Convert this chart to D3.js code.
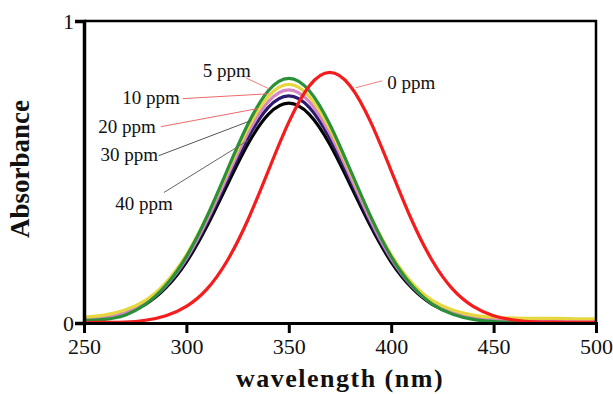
<!DOCTYPE html>
<html>
<head>
<meta charset="utf-8">
<script src="https://cdn.jsdelivr.net/npm/d3@7"></script>
<style>
  body { margin: 0; background: #fff; }
  svg text { font-family: "Times New Roman", "Liberation Serif", Times, serif; }
  .tick-label { font-size: 22px; fill: #111; }
  .ppm-label { font-size: 19px; fill: #111; }
  .axis-title { font-weight: bold; fill: #111; }
</style>
</head>
<body>
<div class="svg-container"></div>
<script>
// wavelength grid (nm)
const wavelengths = [250, 260, 270, 280, 290, 300, 310, 320, 330, 340, 350, 360, 370,
                     380, 390, 400, 410, 420, 430, 440, 450, 460, 470, 480, 490, 500];

// absorbance, one list per concentration
const abs0ppm  = [0.001, 0.002, 0.003, 0.009, 0.024, 0.055, 0.112, 0.207, 0.341, 0.504, 0.665, 0.785, 0.830,
                  0.785, 0.665, 0.504, 0.341, 0.207, 0.112, 0.055, 0.024, 0.010, 0.004, 0.003, 0.002, 0.002];
const abs5ppm  = [0.008, 0.012, 0.026, 0.062, 0.125, 0.220, 0.352, 0.507, 0.658, 0.769, 0.810, 0.769, 0.658,
                  0.507, 0.352, 0.220, 0.125, 0.063, 0.029, 0.012, 0.005, 0.002, 0.001, 0.001, 0.001, 0.001];
const abs10ppm = [0.019, 0.026, 0.043, 0.075, 0.134, 0.226, 0.352, 0.500, 0.644, 0.750, 0.790, 0.750, 0.644,
                  0.500, 0.352, 0.226, 0.134, 0.075, 0.043, 0.026, 0.019, 0.016, 0.015, 0.015, 0.014, 0.014];
const abs20ppm = [0.010, 0.017, 0.034, 0.066, 0.124, 0.214, 0.339, 0.486, 0.628, 0.733, 0.772, 0.733, 0.628,
                  0.486, 0.339, 0.214, 0.124, 0.066, 0.034, 0.017, 0.010, 0.007, 0.006, 0.006, 0.006, 0.006];
const abs30ppm = [0.010, 0.017, 0.033, 0.064, 0.121, 0.209, 0.331, 0.473, 0.612, 0.714, 0.752, 0.714, 0.612,
                  0.473, 0.331, 0.209, 0.121, 0.064, 0.033, 0.017, 0.010, 0.007, 0.006, 0.006, 0.006, 0.006];
const abs40ppm = [0.010, 0.017, 0.032, 0.062, 0.117, 0.202, 0.320, 0.458, 0.592, 0.691, 0.728, 0.691, 0.592,
                  0.458, 0.320, 0.202, 0.117, 0.062, 0.032, 0.017, 0.010, 0.007, 0.006, 0.006, 0.006, 0.006];

// tick labels
const xTicks = [250, 300, 350, 400, 450, 500];
const yTicks = [0, 1];

// series in drawing order (red ends up on top)
const series = [
  { name: '40 ppm', values: abs40ppm, color: '#050505' },
  { name: '30 ppm', values: abs30ppm, color: '#2b1a6e' },
  { name: '20 ppm', values: abs20ppm, color: '#d487c4' },
  { name: '10 ppm', values: abs10ppm, color: '#e6d640' },
  { name: '5 ppm',  values: abs5ppm,  color: '#2b9139' },
  { name: '0 ppm',  values: abs0ppm,  color: '#f41c1c' }
];

// callout labels, in data units: text spot + leader line from/to
const callouts = [
  { text: '5 ppm',  tx: 319.7, ty: 0.815, anchor: 'middle', x1: 328.9, y1: 0.812, x2: 340.2, y2: 0.776, line: '#f08080' },
  { text: '10 ppm', tx: 296.8, ty: 0.726, anchor: 'end',    x1: 298.2, y1: 0.743, x2: 340.2, y2: 0.759, line: '#f06a6a' },
  { text: '20 ppm', tx: 285.1, ty: 0.630, anchor: 'end',    x1: 287.5, y1: 0.650, x2: 334.8, y2: 0.710, line: '#f06a6a' },
  { text: '30 ppm', tx: 286.1, ty: 0.535, anchor: 'end',    x1: 286.5, y1: 0.554, x2: 331.4, y2: 0.670, line: '#555' },
  { text: '40 ppm', tx: 293.4, ty: 0.373, anchor: 'end',    x1: 289.0, y1: 0.432, x2: 329.9, y2: 0.604, line: '#666' },
  { text: '0 ppm',  tx: 398.1, ty: 0.776, anchor: 'start',  x1: 382.6, y1: 0.779, x2: 395.7, y2: 0.802, line: '#f08080' }
];

const W = 613, H = 394;
const margin = { top: 21, right: 17, bottom: 71, left: 84 };
const width = W - margin.left - margin.right;
const height = H - margin.top - margin.bottom;

const xScale = d3.scaleLinear().domain([250, 500]).range([0, width]);
const yScale = d3.scaleLinear().domain([0, 1]).range([height, 0]);

const svg = d3.select('.svg-container')
  .append('svg')
  .attr('width', W)
  .attr('height', H)
  .append('g')
  .attr('transform', `translate(${margin.left}, ${margin.top})`);

// curves
const line = d3.line()
  .x((d, i) => xScale(wavelengths[i]))
  .y(d => yScale(d))
  .curve(d3.curveNatural);

svg.append('g')
  .attr('class', 'curves')
  .selectAll('path')
  .data(series)
  .enter()
  .append('path')
  .attr('d', d => line(d.values))
  .attr('fill', 'none')
  .attr('stroke', d => d.color)
  .attr('stroke-width', 3.2)
  .attr('stroke-linejoin', 'round');

// frame - top & right sides
svg.append('path')
  .attr('d', `M0,0H${width}V${height}`)
  .attr('fill', 'none')
  .attr('stroke', '#000')
  .attr('stroke-width', 2.5);

// x axis
const xAxis = d3.axisBottom(xScale).tickValues(xTicks).tickSize(10).tickFormat(d3.format('d'));
const xAxisDraw = svg.append('g')
  .attr('class', 'x axis')
  .attr('transform', `translate(0, ${height})`)
  .call(xAxis);
xAxisDraw.select('.domain').attr('stroke-width', 3);
xAxisDraw.selectAll('.tick line').attr('stroke-width', 3);
xAxisDraw.selectAll('.tick text')
  .attr('class', 'tick-label')
  .attr('y', 15)
  .attr('dy', '0.71em');

// y axis
const yAxis = d3.axisLeft(yScale).tickValues(yTicks).tickSize(9).tickFormat(d3.format('d'));
const yAxisDraw = svg.append('g')
  .attr('class', 'y axis')
  .call(yAxis);
yAxisDraw.select('.domain').attr('stroke-width', 3.5);
yAxisDraw.selectAll('.tick line').attr('stroke-width', 2.5);
yAxisDraw.selectAll('.tick text')
  .attr('class', 'tick-label')
  .attr('x', -10);

// drop d3's default font attrs on the axis groups so the css wins
svg.selectAll('.axis').attr('font-family', null).attr('font-size', null);

// callouts
const notes = svg.append('g').attr('class', 'callouts');
notes.selectAll('line')
  .data(callouts)
  .enter()
  .append('line')
  .attr('x1', d => xScale(d.x1))
  .attr('y1', d => yScale(d.y1))
  .attr('x2', d => xScale(d.x2))
  .attr('y2', d => yScale(d.y2))
  .attr('stroke', d => d.line)
  .attr('stroke-width', 1);
notes.selectAll('text')
  .data(callouts)
  .enter()
  .append('text')
  .attr('class', 'ppm-label')
  .attr('x', d => xScale(d.tx))
  .attr('y', d => yScale(d.ty))
  .attr('text-anchor', d => d.anchor)
  .text(d => d.text);

// axis titles
svg.append('text')
  .attr('class', 'axis-title')
  .attr('x', width / 2)
  .attr('y', height + 64)
  .attr('text-anchor', 'middle')
  .style('font-size', '26px')
  .style('letter-spacing', '1.5px')
  .text('wavelength (nm)');

svg.append('text')
  .attr('class', 'axis-title')
  .attr('transform', `translate(${-55}, ${height / 2 - 3}) rotate(-90)`)
  .attr('text-anchor', 'middle')
  .style('font-size', '27px')
  .text('Absorbance');
</script>
</body>
</html>
